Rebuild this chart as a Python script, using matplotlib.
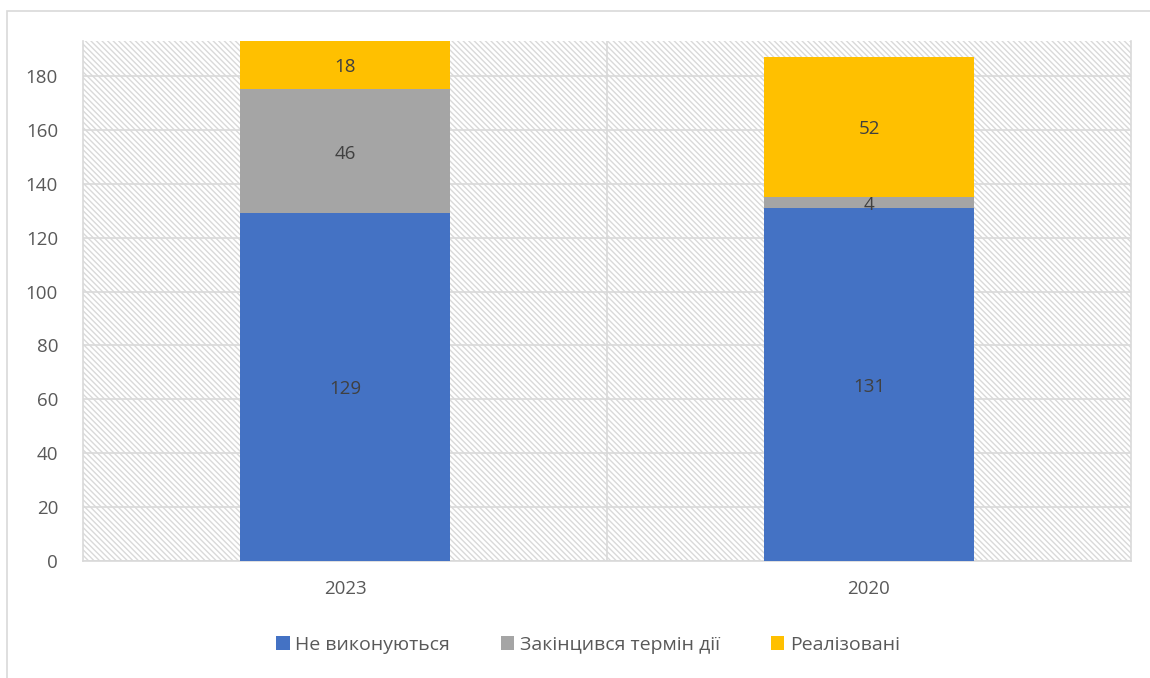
import matplotlib
matplotlib.use("Agg")
import matplotlib.pyplot as plt
from matplotlib.patches import Rectangle
import numpy as np

plt.rcParams['font.family'] = ['Open Sans', 'DejaVu Sans']
plt.rcParams['hatch.color'] = '#d9d9d9'
plt.rcParams['hatch.linewidth'] = 1.0

categories = ['2023', '2020']
series_names = ['Не виконуються', 'Закінцився термін дії', 'Реалізовані']
not_done = [129, 131]
expired = [46, 4]
realized = [18, 52]
colors = ['#4472c4', '#a5a5a5', '#ffc000']

fig = plt.figure(figsize=(11.5, 6.78), dpi=100)
fig.patches.append(Rectangle((7/1150, -0.1), 1.2, 1.1 - 11/678, transform=fig.transFigure,
                             fill=False, edgecolor='#d9d9d9', linewidth=1.2))
ax = fig.add_axes([83/1150, 1 - 561/678, (1131 - 83)/1150, (561 - 41)/678])

bg = Rectangle((0, 0), 1, 1, transform=ax.transAxes, facecolor='white',
               hatch='\\\\\\\\\\\\', edgecolor='#d9d9d9', linewidth=0, zorder=0)
ax.add_patch(bg)

x = np.arange(len(categories))
series = [not_done, expired, realized]
bottom = np.zeros(len(categories))
for vals, c, name in zip(series, colors, series_names):
    ax.bar(x, vals, 0.4, bottom=bottom, color=c, label=name, zorder=3)
    for xi, v, bt in zip(x, vals, bottom):
        ax.text(xi, bt + v / 2 - 0.8, str(v), ha='center', va='center', fontsize=13.5,
                color='#404040', zorder=4)
    bottom = bottom + np.array(vals)

ax.set_xlim(-0.5, 1.5)
ax.set_ylim(0, 193)
ax.set_yticks(np.arange(0, 181, 20))
ax.set_xticks(x)
ax.set_xticklabels(categories)
ax.yaxis.grid(True, color='#d9d9d9', linewidth=1.2, zorder=1)
ax.axvline(0.5, color='#d9d9d9', linewidth=1.2, zorder=1)
ax.set_axisbelow(True)
for s in ['left', 'right', 'bottom']:
    ax.spines[s].set_color('#d9d9d9')
    ax.spines[s].set_linewidth(1.2)
ax.spines['top'].set_visible(False)
ax.tick_params(axis='both', length=0, labelsize=13.5, colors='#595959')
ax.tick_params(axis='y', pad=18)
ax.tick_params(axis='x', pad=14)

handles, labels = ax.get_legend_handles_labels()
fig.legend(handles, labels, loc='center', bbox_to_anchor=(588/1150, 1 - 645/678),
           ncol=3, frameon=False, fontsize=14, labelcolor='#595959',
           handlelength=0.7, handleheight=0.7, handletextpad=0.3, columnspacing=2.6)

fig.savefig('out.png', dpi=100)
